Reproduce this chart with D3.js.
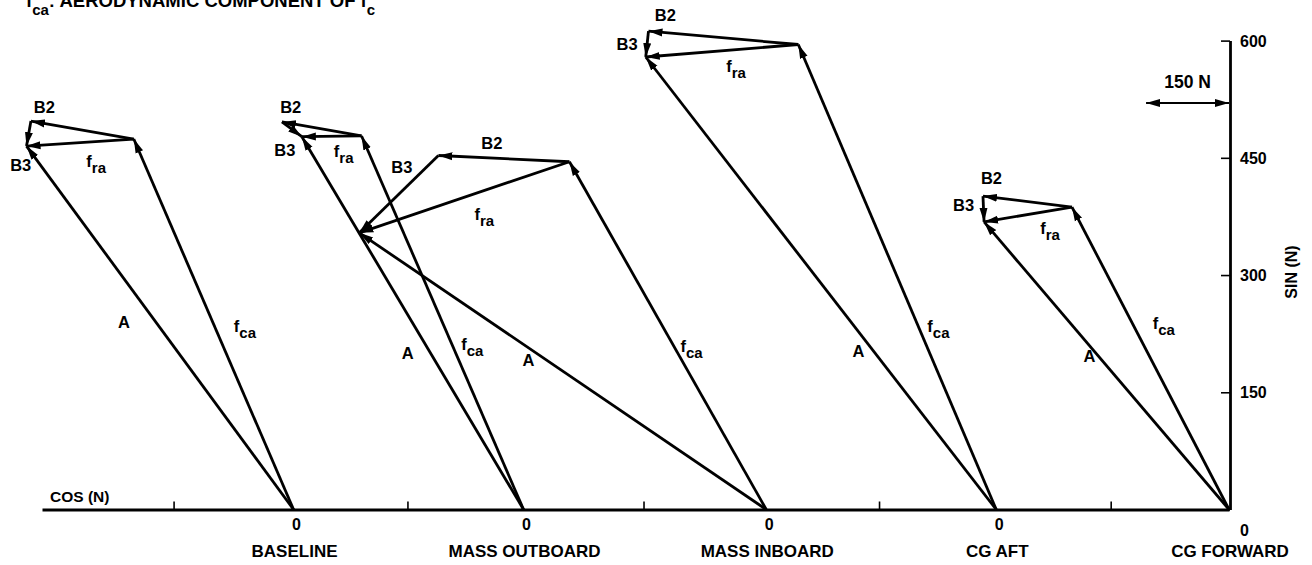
<!DOCTYPE html>
<html>
<head>
<meta charset="utf-8">
<script src="https://cdn.jsdelivr.net/npm/d3@7"></script>
<style>
  html, body { margin: 0; padding: 0; background: #fff; }
  svg { display: block; font-family: "Liberation Sans", Arial, Helvetica, sans-serif; font-weight: bold; }
</style>
</head>
<body>
<svg id="chart" width="1312" height="565"></svg>
<script>
// Cases compared along the shared COS axis
const categories = ["BASELINE", "MASS OUTBOARD", "MASS INBOARD", "CG AFT", "CG FORWARD"];
// COS position (N) of each case's origin on the shared axis
const caseOrigin = [0, 416, 855, 1271, 1692];
// Unlabelled COS ticks (N) separating the cases
const cosTicks = [-217, 206, 633, 1059, 1478];
// SIN ticks (N)
const sinTicks = [0, 150, 300, 450, 600];
// Aerodynamic component f_ca (N), drawn from each origin
const fcaCos = [-289, -293, -356, -358, -284];
const fcaSin = [474, 478, 445, 595, 387];
// Blade B2 contribution (N), drawn from the tip of f_ca
const b2Cos = [-186, -144, -237, -271, -161];
const b2Sin = [23, 18, 8, 17, 14];
// Blade B3 contribution (N), drawn from the tip of B2
const b3Cos = [-8, 36, -143, -5, 2];
const b3Sin = [-32, -19, -99, -33, -33];
// Resultant A (N), drawn from each origin
const aCos = [-483, -401, -736, -634, -443];
const aSin = [465, 477, 354, 579, 368];
// Length of the horizontal scale bar (N)
const scaleBarN = 150;

// Label placement for each case (pixel offsets; t = fraction along the vector)
const labelLayout = [
  { b2: [-38, -23], b3: [-8, 31], fra: [16, 21], fca: [0.486, 29], a: [0.515, -32] },
  { b2: [-31, -22], b3: [-7, 21], fra: [12, 18], fca: [0.434, 19], a: [0.419, -23] },
  { b2: [-12, -16], b3: [3, -27], fra: [20, 20], fca: [0.461, 16], a: [0.54, -18] },
  { b2: [-58, -23], b3: [-20, 0], fra: [14, 18], fca: [0.388, 19], a: [0.35, -15] },
  { b2: [-36, -24], b3: [-20, -4], fra: [22, 17], fca: [0.606, 30], a: [0.533, -9] }
];

const svg = d3.select("#chart");

const x = d3.scaleLinear().domain([-455, 1692]).range([42, 1229]);
const y = d3.scaleLinear().domain([0, 600]).range([509.5, 40.6]);

// Arrowhead marker
const defs = svg.append("defs");
defs.append("marker")
  .attr("id", "head")
  .attr("viewBox", "0 -5 14 10")
  .attr("refX", 14).attr("refY", 0)
  .attr("markerWidth", 14).attr("markerHeight", 10)
  .attr("markerUnits", "userSpaceOnUse")
  .attr("orient", "auto-start-reverse")
  .append("path")
  .attr("d", "M0,-4L14,0L0,4Z")
  .attr("fill", "#000");

// Title line (partly above the top edge)
const title = svg.append("text").attr("x", 26).attr("y", 7).attr("font-size", 18.5);
title.append("tspan").text("f");
title.append("tspan").attr("dy", 8).attr("font-size", 15).text("ca");
title.append("tspan").attr("dy", -8).text(":  AERODYNAMIC COMPONENT OF f");
title.append("tspan").attr("dy", 8).attr("font-size", 15).text("c");

// COS axis along the bottom
const xAxis = d3.axisTop(x).tickValues(cosTicks).tickSizeInner(8).tickSizeOuter(0).tickFormat("");
const gx = svg.append("g").attr("transform", `translate(0,${y(0)})`).call(xAxis);
gx.select(".domain").attr("stroke-width", 2.8);
gx.selectAll(".tick line").attr("stroke-width", 1.6);

svg.append("text").attr("x", 50).attr("y", y(0) - 8).attr("font-size", 15.5).text("COS (N)");

// SIN axis on the right
const yAxis = d3.axisRight(y).tickValues(sinTicks).tickSizeInner(-9).tickSizeOuter(0).tickPadding(10);
const gy = svg.append("g").attr("transform", `translate(${x(caseOrigin[4]) + 1},0)`).call(yAxis);
gy.select(".domain").attr("stroke-width", 2.8);
gy.selectAll(".tick line").attr("stroke-width", 1.6);
gy.selectAll(".tick text")
  .attr("font-size", 16).attr("font-family", null).attr("fill", "#000")
  .attr("dy", d => d === 0 ? "1.6em" : "0.35em");

svg.append("text")
  .attr("transform", `translate(1291,${y(300) - 3}) rotate(-90)`)
  .attr("text-anchor", "middle").attr("dy", "0.35em")
  .attr("font-size", 16).text("SIN (N)");

// Zero marks and case names under each origin
categories.forEach((c, i) => {
  const ox = x(caseOrigin[i]);
  if (i < categories.length - 1) {
    svg.append("text").attr("x", ox + 3).attr("y", 530)
      .attr("text-anchor", "middle").attr("font-size", 16).text("0");
  }
  svg.append("text").attr("x", ox + 1).attr("y", 557)
    .attr("text-anchor", "middle").attr("font-size", 17).text(c);
});

// Scale bar
const barY = 103;
svg.append("line")
  .attr("x1", x(caseOrigin[4] - scaleBarN)).attr("x2", x(caseOrigin[4]))
  .attr("y1", barY).attr("y2", barY)
  .attr("stroke", "#000").attr("stroke-width", 2.2)
  .attr("marker-start", "url(#head)").attr("marker-end", "url(#head)");
svg.append("text")
  .attr("x", (x(caseOrigin[4] - scaleBarN) + x(caseOrigin[4])) / 2).attr("y", 88)
  .attr("text-anchor", "middle").attr("font-size", 17.5).text(scaleBarN + " N");

// Vector diagrams
const vec = svg.append("g");
function arrow(p, q) {
  vec.append("line")
    .attr("x1", p[0]).attr("y1", p[1]).attr("x2", q[0]).attr("y2", q[1])
    .attr("stroke", "#000").attr("stroke-width", 2.8)
    .attr("marker-end", "url(#head)");
}
function label(px, py, main, sub, size) {
  const t = svg.append("text").attr("x", px).attr("y", py)
    .attr("text-anchor", "middle").attr("font-size", size || 16.5);
  t.append("tspan").text(main);
  if (sub) t.append("tspan").attr("dy", 6).attr("font-size", 15).text(sub);
}

categories.forEach((c, i) => {
  const o = caseOrigin[i];
  const O = [x(o), y(0)];
  const F = [x(o + fcaCos[i]), y(fcaSin[i])];
  const P2 = [x(o + fcaCos[i] + b2Cos[i]), y(fcaSin[i] + b2Sin[i])];
  const C = [x(o + fcaCos[i] + b2Cos[i] + b3Cos[i]), y(fcaSin[i] + b2Sin[i] + b3Sin[i])];
  const A = [x(o + aCos[i]), y(aSin[i])];

  arrow(O, F);    // f_ca
  arrow(O, A);    // A
  arrow(F, P2);   // B2
  arrow(P2, C);   // B3
  arrow(F, C);    // f_ra

  const L = labelLayout[i];
  const mid = (p, q) => [(p[0] + q[0]) / 2, (p[1] + q[1]) / 2];
  const along = (p, q, t) => [p[0] + (q[0] - p[0]) * t, p[1] + (q[1] - p[1]) * t];

  const m2 = mid(F, P2), m3 = mid(P2, C), mr = mid(F, C);
  label(m2[0] + L.b2[0], m2[1] + L.b2[1] + 6, "B2");
  label(m3[0] + L.b3[0], m3[1] + L.b3[1] + 6, "B3");
  label(mr[0] + L.fra[0], mr[1] + L.fra[1] + 3, "f", "ra");
  const pf = along(O, F, L.fca[0]);
  label(pf[0] + L.fca[1], pf[1] + 3, "f", "ca");
  const pa = along(O, A, L.a[0]);
  label(pa[0] + L.a[1], pa[1] + 6, "A");
});
</script>
</body>
</html>
